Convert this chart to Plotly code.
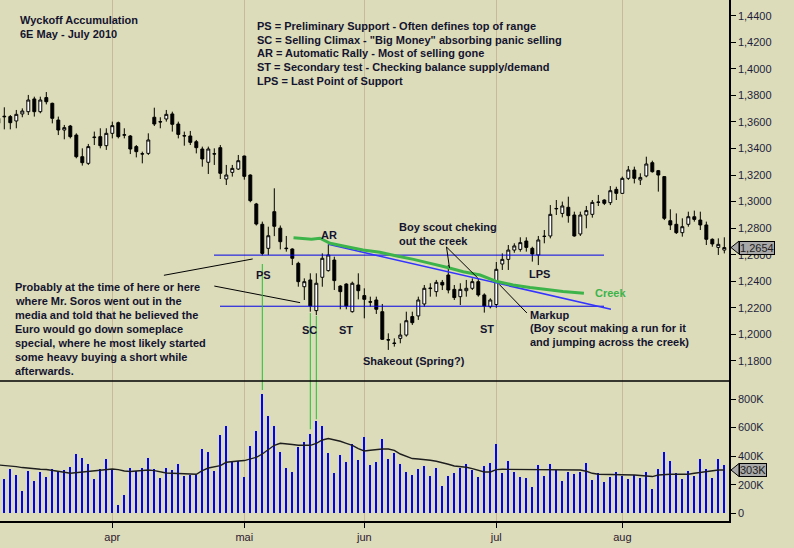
import plotly.graph_objects as go
import pandas as pd

# --- data (6E daily) ---
holidays = ["2010-05-31", "2010-07-05"]
dates = [d.strftime("%Y-%m-%d") for d in pd.bdate_range("2010-03-05", "2010-08-25")
         if d.strftime("%Y-%m-%d") not in holidays]

opens = [1.3627,
         1.3638, 1.3640, 1.3607, 1.3660, 1.3677, 1.3773, 1.3677, 1.3783, 1.3740, 1.3614,
         1.3539, 1.3569, 1.3501, 1.3338, 1.3288, 1.3482, 1.3489, 1.3421,
         1.3514, 1.3594, 1.3500, 1.3494, 1.3414, 1.3358, 1.3363, 1.3635, 1.3602, 1.3622,
         1.3660, 1.3584, 1.3494, 1.3494, 1.3451, 1.3396, 1.3296, 1.3358, 1.3406, 1.3170,
         1.3220, 1.3245,
         1.3343, 1.3200, 1.2982, 1.2829, 1.2648, 1.2924, 1.2800, 1.2650, 1.2643, 1.2535,
         1.2359, 1.2410, 1.2179, 1.2430, 1.2480, 1.2560, 1.2364, 1.2379, 1.2171, 1.2372,
         1.2292, 1.2246, 1.2259, 1.2171, 1.1960, 1.1935, 1.1970, 1.1995, 1.2134, 1.2139,
         1.2229, 1.2345, 1.2322, 1.2392, 1.2447, 1.2339, 1.2284, 1.2329, 1.2347, 1.2397,
         1.2297, 1.2209,
         1.2225, 1.2530, 1.2565, 1.2635, 1.2640, 1.2703, 1.2648, 1.2598, 1.2737, 1.2741,
         1.2945, 1.2911, 1.2957, 1.2899, 1.2756, 1.2899, 1.2904, 1.2994, 1.3012, 1.2992,
         1.3092,
         1.3062, 1.3175, 1.3238, 1.3163, 1.3193, 1.3293, 1.3233, 1.3188, 1.2856, 1.2829,
         1.2766, 1.2829, 1.2886, 1.2861, 1.2824, 1.2716, 1.2655, 1.2635]
highs = [1.3640,
         1.3710, 1.3652, 1.3690, 1.3702, 1.3803, 1.3790, 1.3790, 1.3825, 1.3745, 1.3640,
         1.3577, 1.3577, 1.3514, 1.3401, 1.3434, 1.3527, 1.3552, 1.3552,
         1.3602, 1.3602, 1.3552, 1.3501, 1.3426, 1.3376, 1.3514, 1.3707, 1.3635, 1.3690,
         1.3677, 1.3602, 1.3527, 1.3532, 1.3464, 1.3414, 1.3414, 1.3401, 1.3426, 1.3276,
         1.3276, 1.3351,
         1.3346, 1.3205, 1.2990, 1.2849, 1.2811, 1.3100, 1.2820, 1.2741, 1.2648, 1.2547,
         1.2422, 1.2460, 1.2460, 1.2610, 1.2678, 1.2585, 1.2370, 1.2385, 1.2397, 1.2460,
         1.2347, 1.2284, 1.2284, 1.2229, 1.2008, 1.1970, 1.2083, 1.2171, 1.2171, 1.2284,
         1.2372, 1.2385, 1.2410, 1.2410, 1.2523, 1.2372, 1.2385, 1.2410, 1.2422, 1.2422,
         1.2309, 1.2272,
         1.2545, 1.2610, 1.2673, 1.2686, 1.2731, 1.2731, 1.2660, 1.2741, 1.2786, 1.2974,
         1.3012, 1.3000, 1.3037, 1.2924, 1.2924, 1.2967, 1.3012, 1.3050, 1.3017, 1.3117,
         1.3112,
         1.3188, 1.3268, 1.3263, 1.3213, 1.3338, 1.3308, 1.3238, 1.3190, 1.2942, 1.2911,
         1.2874, 1.2924, 1.2932, 1.2924, 1.2849, 1.2723, 1.2723, 1.2731]
lows = [1.3580,
        1.3544, 1.3544, 1.3552, 1.3635, 1.3652, 1.3640, 1.3665, 1.3732, 1.3589, 1.3501,
        1.3469, 1.3476, 1.3326, 1.3271, 1.3276, 1.3426, 1.3401, 1.3389,
        1.3476, 1.3476, 1.3476, 1.3358, 1.3333, 1.3288, 1.3351, 1.3569, 1.3552, 1.3602,
        1.3527, 1.3476, 1.3421, 1.3426, 1.3363, 1.3263, 1.3208, 1.3276, 1.3170, 1.3125,
        1.3188, 1.3238,
        1.3165, 1.2995, 1.2820, 1.2595, 1.2598, 1.2740, 1.2640, 1.2623, 1.2522, 1.2359,
        1.2259, 1.2171, 1.2146, 1.2359, 1.2473, 1.2334, 1.2189, 1.2189, 1.2164, 1.2264,
        1.2121, 1.2209, 1.2154, 1.1958, 1.1883, 1.1908, 1.1933, 1.1983, 1.2071, 1.2109,
        1.2209, 1.2284, 1.2284, 1.2334, 1.2309, 1.2259, 1.2221, 1.2284, 1.2334, 1.2284,
        1.2164, 1.2196,
        1.2200, 1.2485, 1.2485, 1.2615, 1.2623, 1.2623, 1.2548, 1.2522, 1.2686, 1.2723,
        1.2899, 1.2881, 1.2841, 1.2736, 1.2741, 1.2799, 1.2879, 1.2967, 1.2974, 1.2974,
        1.3012,
        1.3060, 1.3163, 1.3137, 1.3125, 1.3183, 1.3218, 1.3075, 1.2861, 1.2786, 1.2756,
        1.2736, 1.2811, 1.2849, 1.2786, 1.2673, 1.2660, 1.2598, 1.2610]
closes = [1.3590,
          1.3642, 1.3594, 1.3657, 1.3682, 1.3765, 1.3677, 1.3765, 1.3752, 1.3627, 1.3539,
          1.3557, 1.3489, 1.3338, 1.3293, 1.3414, 1.3485, 1.3421, 1.3514,
          1.3572, 1.3489, 1.3503, 1.3396, 1.3376, 1.3360, 1.3464, 1.3584, 1.3600, 1.3657,
          1.3582, 1.3506, 1.3496, 1.3446, 1.3406, 1.3321, 1.3396, 1.3360, 1.3213, 1.3200,
          1.3250, 1.3308,
          1.3190, 1.3007, 1.2831, 1.2610, 1.2743, 1.2814, 1.2698, 1.2646, 1.2573, 1.2397,
          1.2397, 1.2214, 1.2385, 1.2573, 1.2598, 1.2405, 1.2322, 1.2214, 1.2385, 1.2329,
          1.2264, 1.2243, 1.2189, 1.1963, 1.1958, 1.1932, 1.1995, 1.2103, 1.2088, 1.2259,
          1.2347, 1.2348, 1.2392, 1.2372, 1.2334, 1.2277, 1.2339, 1.2347, 1.2397, 1.2297,
          1.2214, 1.2259,
          1.2490, 1.2565, 1.2635, 1.2666, 1.2691, 1.2655, 1.2605, 1.2711, 1.2739, 1.2904,
          1.2948, 1.2967, 1.2894, 1.2741, 1.2899, 1.2932, 1.2994, 1.2996, 1.2987, 1.3082,
          1.3062,
          1.3175, 1.3238, 1.3175, 1.3182, 1.3283, 1.3225, 1.3200, 1.2874, 1.2824, 1.2766,
          1.2811, 1.2886, 1.2866, 1.2824, 1.2716, 1.2681, 1.2678, 1.2654]

# volume in thousands of contracts
volume = [280,
          240, 310, 268, 156, 296, 226, 289, 254, 310, 287, 303, 324, 415, 387, 345, 240, 310, 380,
          310, 58, 128, 317, 296, 317, 387, 310, 247, 317, 303, 345, 261, 268, 268, 450, 429, 296,
          548, 611, 366, 366,
          254, 471, 576, 835, 681, 611, 429, 317, 289, 464, 499, 555, 646, 611, 422, 282, 408, 359,
          485, 373,
          534, 338, 359, 520, 380, 425, 345, 289, 268, 310, 331, 261, 317, 191, 261, 282, 317, 345,
          303, 254, 331, 352,
          485, 282, 366, 289, 254, 247, 184, 338, 261, 345, 303, 226, 289, 275, 289, 352, 233, 282,
          219, 254, 289,
          261, 240, 268, 247, 289, 170, 310, 429, 366, 282, 240, 296, 261, 380, 310, 247, 380, 338]
volume_avg = [338,
              336, 334, 327, 320, 315, 310, 308, 306, 301, 294, 287, 280, 285, 289, 294, 299, 301, 306,
              310, 306, 296, 292, 296, 301, 303, 299, 289, 282, 280, 280, 278, 275, 273, 299, 317, 327,
              334, 357, 364, 366,
              369, 378, 392, 415, 443, 476, 490, 488, 481, 476, 478, 476, 490, 513, 523, 516, 504, 490,
              476, 453,
              436, 441, 448, 450, 450, 441, 415, 397, 383, 380, 378, 371, 364, 355, 343, 331, 327, 322,
              313, 301, 289, 289,
              306, 308, 308, 308, 308, 308, 308, 308, 308, 308, 308, 308, 308, 308, 303, 294, 280, 273,
              273, 273, 273,
              271, 271, 268, 264, 259, 257, 268, 273, 273, 273, 273, 273, 280, 285, 289, 299, 303, 303]

month_starts = ["2010-04-01", "2010-05-03", "2010-06-01", "2010-07-01", "2010-08-02"]
month_labels = ["apr", "mai", "jun", "jul", "aug"]
price_ticks = [1.18, 1.20, 1.22, 1.24, 1.26, 1.28, 1.30, 1.32, 1.34, 1.36, 1.38, 1.40, 1.42, 1.44]
price_grid = [1.18, 1.24, 1.30, 1.36, 1.42]
vol_ticks = [0, 200, 400, 600, 800]
vol_ticktext = ["0", "200K", "400K", "600K", "800K"]
vol_grid = [0, 600]

# Wyckoff drawing: support/resistance, trend line, "creek"
ps_level, sc_level = 1.2597, 1.2212
trend_from, trend_to = (55.0, 1.2678), (102.1, 1.2189)
creek_idx = [49.2, 52.2, 53.6, 55.3, 58.1, 60.8, 63.6, 66.4, 69.2, 72.0, 74.7, 77.5, 80.3,
             83.1, 85.8, 88.6, 91.4, 94.1, 97.6]
creek_px = [1.2728, 1.2716, 1.2724, 1.2686, 1.2660, 1.2635, 1.2618, 1.2590, 1.2565, 1.2535,
            1.2505, 1.2472, 1.2447, 1.2398, 1.2372, 1.2353, 1.2338, 1.2323, 1.2309]
# (bar index, price below candle, volume at the line end)
vol_links = [(44, 1.2530, 863), (52, 1.2160, 588), (53, 1.2140, 658)]

legend_lines = ["PS = Preliminary Support - Often defines top of range",
                "SC = Selling Climax - \"Big Money\" absorbing panic selling",
                "AR = Automatic Rally - Most of selling gone",
                "ST = Secondary test - Checking balance supply/demand",
                "LPS = Last Point of Support"]
soros_lines = ["Probably at the time of here or here",
               "where Mr. Soros went out in the",
               "media and told that he believed the",
               "Euro would go down someplace",
               "special, where he most likely started",
               "some heavy buying a short while",
               "afterwards."]

BG = "#dcdcbb"
GRID = "#c9b89c"
TXT = "#14142e"
BLUE = "#0000e6"
GREEN = "#3cb44a"
FONT = "Arial, Liberation Sans, sans-serif"

PLOT_W, PLOT_H = 729, 521
SPLIT = 140 / PLOT_H
PRICE_RANGE = [1.1649, 1.4518]
VOL_RANGE = [-54, 926]


def px(x):
    return x / PLOT_W


def py(y):
    return 1 - y / PLOT_H


def price_paper(p):
    return SPLIT + (p - PRICE_RANGE[0]) / (PRICE_RANGE[1] - PRICE_RANGE[0]) * (1 - SPLIT)


def vol_paper(v):
    return (v - VOL_RANGE[0]) / (VOL_RANGE[1] - VOL_RANGE[0]) * SPLIT


fig = go.Figure()
fig.add_trace(go.Bar(x=dates, y=volume, yaxis="y", marker=dict(color="#0000ff", line=dict(width=0)),
                     width=0.36, hoverinfo="x+y"))
fig.add_trace(go.Scatter(x=dates, y=volume_avg, yaxis="y", mode="lines",
                         line=dict(color="#1e1e1e", width=1.4), hoverinfo="skip"))
fig.add_trace(go.Candlestick(x=dates, open=opens, high=highs, low=lows, close=closes, yaxis="y2",
                             increasing=dict(line=dict(color="black", width=1), fillcolor="white"),
                             decreasing=dict(line=dict(color="black", width=1), fillcolor="black"),
                             whiskerwidth=0))


def label(x, y, text, anchor="left", color=TXT):
    fig.add_annotation(x=px(x), y=py(y), xref="paper", yref="paper", text=text, showarrow=False,
                       xanchor=anchor, yanchor="middle",
                       font=dict(family=FONT, size=11, color=color, weight="bold"))


label(18, 20, "Wyckoff Accumulation")
label(18, 34, "6E May - July 2010")
for k, line in enumerate(legend_lines):
    label(255, 25.7 + 13.9 * k, line)
for k, line in enumerate(soros_lines):
    label(12.5, 286.5 + 14 * k, line)
label(263.5, 275, "PS", "center")
label(329, 235, "AR", "center")
label(309, 330, "SC", "center")
label(346, 330, "ST", "center")
label(487, 328.5, "ST", "center")
label(361, 361, "Shakeout (Spring?)")
label(397, 227, "Boy scout cheking")
label(397, 240.5, "out the creek")
label(539, 274, "LPS", "center")
label(592.5, 293, "Creek", color=GREEN)
label(528, 314.5, "Markup")
label(528, 328, "(Boy scout making a run for it")
label(528, 342, "and jumping across the creek)")

# support lines, trend line and creek
fig.add_shape(type="line", xref="x", yref="y2", x0=35.95, x1=100.95, y0=ps_level, y1=ps_level,
              line=dict(color=BLUE, width=1))
fig.add_shape(type="line", xref="x", yref="y2", x0=36.95, x1=100.95, y0=sc_level, y1=sc_level,
              line=dict(color=BLUE, width=1))
fig.add_shape(type="line", xref="x", yref="y2", x0=trend_from[0], y0=trend_from[1],
              x1=trend_to[0], y1=trend_to[1], line=dict(color="#3434ff", width=1.5))
creek_path = "M " + " L ".join(f"{i},{p}" for i, p in zip(creek_idx, creek_px))
fig.add_shape(type="path", xref="x", yref="y2", path=creek_path, line=dict(color=GREEN, width=3))

# thin pointer lines
pointers = [((27.6, 1.2445), (42.4, 1.2568)),
            ((36.0, 1.2364), (50.3, 1.2239)),
            ((74.7, 1.2658), (75.2, 1.2500)),
            ((74.7, 1.2658), (79.9, 1.2425)),
            ((83.5, 1.2376), (88.1, 1.2161))]
for (xa, ya), (xb, yb) in pointers:
    fig.add_shape(type="line", xref="x", yref="y2", x0=xa, y0=ya, x1=xb, y1=yb,
                  line=dict(color="black", width=1))

# green links from candles to volume
for idx, p, v in vol_links:
    fig.add_shape(type="line", xref="x", yref="paper", x0=idx, x1=idx,
                  y0=price_paper(p), y1=vol_paper(v), line=dict(color="#22c032", width=1))

# panel separator
fig.add_shape(type="line", xref="paper", yref="paper", x0=0, x1=1, y0=SPLIT, y1=SPLIT,
              line=dict(color="black", width=1.5))

# last value tags
last_price = closes[-1]
last_avg = volume_avg[-1]
for val, txt, to_paper in [(last_price, f"{last_price:.4f}".replace(".", ","), price_paper),
                           (last_avg, f"{last_avg}K", vol_paper)]:
    yp = to_paper(val)
    h = 6.5 / PLOT_H
    fig.add_shape(type="path", xref="paper", yref="paper",
                  path=f"M {px(731)},{yp} L {px(739)},{yp + h} L {px(739)},{yp - h} Z",
                  fillcolor="#a8a8a8", line=dict(color="black", width=1))
    fig.add_annotation(x=px(738.5), y=yp, xref="paper", yref="paper", text=txt, showarrow=False,
                       xanchor="left", yanchor="middle", bgcolor="#a8a8a8", bordercolor="black",
                       borderwidth=1, borderpad=0,
                       font=dict(family=FONT, size=11, color="#202020"))

axis_font = dict(family=FONT, size=11, color="#1e1e3c")
fig.update_layout(
    width=794, height=548,
    margin=dict(l=0, r=65, t=0, b=27, pad=0),
    paper_bgcolor=BG, plot_bgcolor=BG,
    showlegend=False, separators=",.", bargap=0,
    xaxis=dict(type="category", range=[0.283, 121.78], domain=[0, 1], anchor="y",
               tickmode="array", tickvals=month_starts, ticktext=month_labels,
               ticks="outside", ticklen=5, tickcolor="black", tickfont=dict(family=FONT, size=11, color="#2e1a2e"),
               showgrid=True, gridcolor=GRID, gridwidth=1, showline=True, linecolor="black",
               linewidth=1.5, rangeslider=dict(visible=False), fixedrange=True),
    yaxis=dict(domain=[0, SPLIT], range=VOL_RANGE, side="right", anchor="x",
               tickmode="array", tickvals=vol_ticks, ticktext=vol_ticktext,
               ticks="outside", ticklen=5, tickcolor="black", tickfont=axis_font,
               showgrid=False, zeroline=False, showline=True, linecolor="black", linewidth=1.5),
    yaxis3=dict(overlaying="y", range=VOL_RANGE, side="right", tickmode="array", tickvals=vol_grid,
                showticklabels=False, ticks="", showgrid=True, gridcolor=GRID, zeroline=False),
    yaxis2=dict(domain=[SPLIT, 1], range=PRICE_RANGE, side="right", anchor="x",
                tickmode="array", tickvals=price_ticks, tickformat=".4f",
                ticks="outside", ticklen=5, tickcolor="black", tickfont=axis_font,
                showgrid=False, zeroline=False, showline=True, linecolor="black", linewidth=1.5),
    yaxis4=dict(overlaying="y2", range=PRICE_RANGE, side="right", tickmode="array", tickvals=price_grid,
                showticklabels=False, ticks="", showgrid=True, gridcolor=GRID, zeroline=False),
)

# the page body has a default margin; drop it so the 794x548 figure sits at the window origin
fig.write_html("out.html", config={"displayModeBar": False},
               post_script="document.body.style.margin='0';")
